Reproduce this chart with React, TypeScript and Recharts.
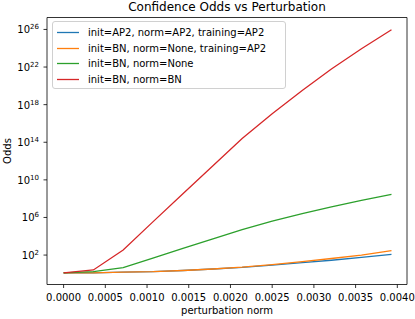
import { LineChart, Line, XAxis, YAxis, ReferenceArea, Legend, Label } from "recharts";

// perturbation norm sample points
const norms = [0, 0.000357, 0.000714, 0.00107, 0.00143, 0.00179, 0.00214, 0.0025, 0.00286, 0.00321, 0.00357, 0.00393];

// odds
const ap2Odds = [1.3, 1.3, 1.5, 1.7, 2.3, 3.3, 4.8, 8.5, 16, 28, 56, 117];
const bnNoneAp2Odds = [1.3, 1.3, 1.5, 1.7, 2.3, 3.3, 5.1, 9.8, 20, 43, 100, 290];
const bnNoneOdds = [1.3, 1.7, 4.5, 46, 510, 5400, 5.0e4, 4.0e5, 2.5e6, 1.35e7, 6.5e7, 2.9e8];
const bnBnOdds = [1.3, 2.6, 340, 3.4e5, 3.3e8, 3.1e11, 2.5e14, 1.1e17, 3.2e19, 6.3e21, 8.9e23, 9.3e25];

const xTicks = [0, 0.0005, 0.001, 0.0015, 0.002, 0.0025, 0.003, 0.0035, 0.004];
const yTicks = [1e2, 1e6, 1e10, 1e14, 1e18, 1e22, 1e26];

const series = [
  { key: "ap2", name: "init=AP2, norm=AP2, training=AP2", color: "#1f77b4", values: ap2Odds },
  { key: "bnNoneAp2", name: "init=BN, norm=None, training=AP2", color: "#ff7f0e", values: bnNoneAp2Odds },
  { key: "bnNone", name: "init=BN, norm=None", color: "#2ca02c", values: bnNoneOdds },
  { key: "bnBn", name: "init=BN, norm=BN", color: "#d62728", values: bnBnOdds },
];

const data = norms.map((x, i) => {
  const row: Record<string, number> = { x };
  series.forEach((s) => (row[s.key] = s.values[i]));
  return row;
});

const FONT = "'DejaVu Sans', sans-serif";
const xDomain = [-0.000199, 0.004116];
const yDomain = [Math.pow(10, -1.13), Math.pow(10, 27.27)];

const LogTick = ({ x, y, payload }: any) => {
  const exp = Math.round(Math.log10(payload.value));
  return (
    <text x={x} y={y} dy={4} textAnchor="end" fontSize={10} fill="#000" fontFamily={FONT}>
      10
      <tspan dy={-4} fontSize={7}>
        {exp}
      </tspan>
    </text>
  );
};

const legendRowTops = [4, 20, 35, 51];

const LegendBox = () => (
  <div
    style={{
      width: 234,
      height: 68,
      boxSizing: "border-box",
      border: "1px solid #d0d0d0",
      borderRadius: 3,
      background: "rgba(255,255,255,0.8)",
      position: "relative",
      fontFamily: FONT,
      fontSize: 10,
    }}
  >
    {series.map((s, i) => (
      <div key={s.key} style={{ position: "absolute", left: 4, top: legendRowTops[i], height: 12, display: "flex", alignItems: "center" }}>
        <svg width={22} height={12}>
          <line x1={0} x2={22} y1={6.5} y2={6.5} stroke={s.color} strokeWidth={1.3} />
        </svg>
        <span style={{ marginLeft: 9, color: "#000", whiteSpace: "nowrap" }}>{s.name}</span>
      </div>
    ))}
  </div>
);

const App = () => {
  return (
    <div style={{ position: "absolute", left: 0, top: 0, width: 415, height: 319, background: "#fff" }}>
      <div
        style={{
          position: "absolute",
          left: 47,
          width: 360,
          top: 1,
          textAlign: "center",
          fontFamily: FONT,
          fontSize: 12,
          lineHeight: "12px",
          color: "#000",
        }}
      >
        Confidence Odds vs Perturbation
      </div>
      <LineChart width={415} height={319} data={data} margin={{ top: 17.5, right: 8, bottom: 0, left: 0 }}>
        <XAxis
          dataKey="x"
          type="number"
          domain={xDomain}
          allowDataOverflow
          ticks={xTicks}
          tickFormatter={(v: number) => v.toFixed(4)}
          height={34.5}
          axisLine={false}
          tickSize={3.5}
          tickMargin={6}
          tickLine={{ stroke: "#000", strokeWidth: 0.8 }}
          tick={{ fill: "#000", fontSize: 10, fontFamily: FONT }}
        >
          <Label
            content={({ viewBox }: any) => (
              <text x={viewBox.x + viewBox.width / 2} y={314} textAnchor="middle" fontSize={10} fill="#000" fontFamily={FONT}>
                perturbation norm
              </text>
            )}
          />
        </XAxis>
        <YAxis
          type="number"
          scale="log"
          domain={yDomain}
          allowDataOverflow
          ticks={yTicks}
          width={47}
          axisLine={false}
          tickSize={3.5}
          tickMargin={4.5}
          tickLine={{ stroke: "#000", strokeWidth: 0.8 }}
          tick={<LogTick />}
        >
          <Label
            content={() => (
              <text x={10.5} y={151} transform="rotate(-90 10.5 151)" textAnchor="middle" fontSize={10} fill="#000" fontFamily={FONT}>
                Odds
              </text>
            )}
          />
        </YAxis>
        {series.map((s) => (
          <Line
            key={s.key}
            dataKey={s.key}
            name={s.name}
            type="linear"
            stroke={s.color}
            strokeWidth={1.3}
            dot={false}
            activeDot={false}
            isAnimationActive={false}
          />
        ))}
        <ReferenceArea
          x1={xDomain[0]}
          x2={xDomain[1]}
          y1={yDomain[0]}
          y2={yDomain[1]}
          fill="none"
          stroke="#000"
          strokeWidth={0.8}
          ifOverflow="visible"
        />
        <Legend
          layout="horizontal"
          verticalAlign="middle"
          align="center"
          content={() => <LegendBox />}
          wrapperStyle={{ position: "absolute", left: 52, top: 21, width: 234, height: 68 }}
        />
      </LineChart>
    </div>
  );
};

export default App;
